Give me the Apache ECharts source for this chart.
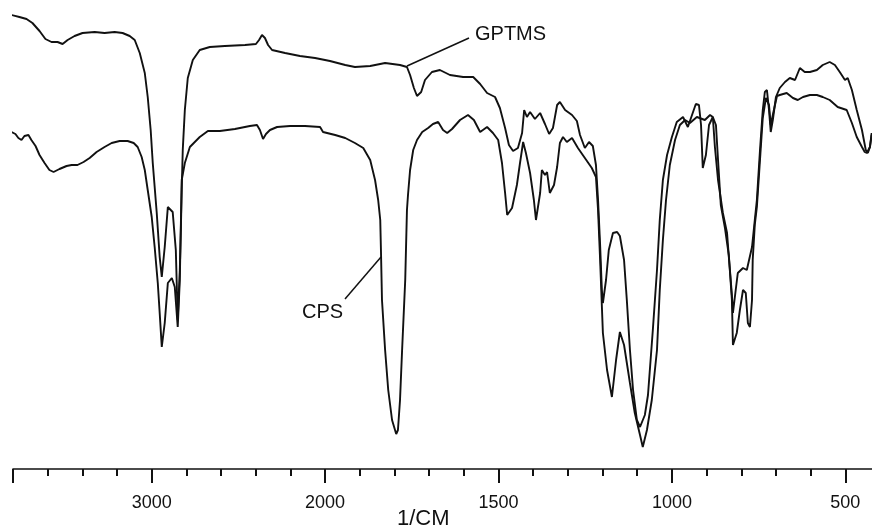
<!DOCTYPE html>
<html>
<head>
<meta charset="utf-8">
<script src="https://cdn.jsdelivr.net/npm/echarts@6/dist/echarts.min.js"></script>
<style>
html,body{margin:0;padding:0;background:#fff;overflow:hidden;width:872px;height:530px;}
#chart{width:1030px;height:530px;}
</style>
</head>
<body>
<div id="chart"></div>
<script>
// Wavenumbers (cm-1) and transmittance (arbitrary %T)
var gptmsWavenumber = [3809,3763,3722,3688,3647,3613,3578,3543,3514,3485,3445,3399,3329,3272,3214,3168,3127,3098,3069,3040,3023,3006,2994,2971,2954,2942,2925,2907,2896,2879,2861,2850,2838,2832,2827,2821,2809,2792,2763,2723,2665,2578,2462,2399,2381,2364,2347,2329,2306,2231,2145,2058,1986,1942,1914,1870,1827,1784,1764,1755,1744,1735,1723,1712,1692,1669,1640,1602,1573,1553,1533,1510,1496,1481,1470,1458,1444,1432,1426,1418,1409,1395,1380,1366,1354,1343,1331,1323,1308,1288,1274,1265,1251,1239,1228,1219,1213,1207,1202,1199,1190,1182,1170,1158,1150,1138,1130,1121,1112,1101,1092,1078,1069,1055,1043,1035,1026,1014,1000,986,968,954,942,931,922,916,911,902,893,882,873,867,859,847,836,827,824,816,810,795,784,769,761,755,746,738,732,726,720,715,709,700,689,674,660,645,631,617,602,582,565,545,530,516,501,493,481,467,452,441,435,429,424];
var gptmsT = [90.8,90.4,90.0,89.2,87.6,86.0,85.4,85.4,85.0,85.8,86.6,87.2,87.4,87.2,87.4,87.2,86.6,85.8,83.2,79.2,74.4,67.8,61.2,51.2,42.4,38.4,44.4,52.4,52.8,51.4,43.8,29.8,39.8,47.8,55.8,63.8,71.8,78.2,81.8,83.8,84.4,84.6,84.8,85.0,85.8,86.8,86.2,84.8,83.8,83.2,82.6,82.2,81.6,80.8,80.4,80.6,81.2,80.8,80.4,78.8,76.2,74.6,75.4,77.8,79.4,79.8,78.8,78.4,78.4,77.0,75.2,74.4,72.2,68.2,64.8,63.6,64.2,67.2,71.8,70.4,71.4,70.0,71.2,69.0,67.0,68.2,72.8,73.4,71.8,70.8,69.6,66.8,64.2,65.4,64.6,60.8,53.8,44.8,35.8,33.2,37.8,43.8,47.2,47.4,46.6,41.8,33.8,23.8,15.8,9.8,8.4,10.8,14.8,27.8,39.8,49.8,57.8,62.8,66.4,69.4,70.4,68.4,70.8,73.0,72.8,68.8,60.2,62.8,68.8,70.4,68.8,61.8,52.8,48.2,42.8,34.8,31.2,35.8,39.2,40.2,39.8,44.4,49.8,53.8,63.8,71.8,75.4,75.8,71.8,67.4,69.8,74.4,76.2,77.4,78.2,77.8,80.2,79.4,79.4,79.8,80.8,81.4,80.8,79.4,77.8,78.2,75.8,71.8,67.8,63.8,63.2,64.4,67.2];

var cpsWavenumber = [3809,3786,3769,3751,3734,3711,3694,3670,3647,3618,3590,3566,3532,3491,3462,3428,3393,3358,3318,3272,3231,3185,3139,3104,3081,3058,3040,3023,3000,2983,2965,2954,2942,2925,2907,2884,2867,2850,2838,2827,2809,2780,2723,2676,2607,2520,2434,2393,2376,2358,2341,2318,2277,2202,2116,2029,2012,1971,1942,1914,1890,1870,1856,1847,1841,1839,1836,1827,1818,1807,1795,1790,1784,1778,1769,1764,1761,1755,1746,1735,1720,1703,1689,1674,1660,1648,1634,1611,1588,1571,1553,1533,1516,1501,1490,1481,1475,1461,1447,1438,1429,1421,1409,1398,1392,1380,1375,1366,1360,1352,1340,1331,1323,1314,1303,1288,1271,1251,1231,1219,1213,1207,1199,1187,1173,1161,1150,1138,1121,1107,1092,1084,1072,1058,1043,1035,1026,1017,1006,991,977,962,948,928,905,890,882,876,867,853,841,833,827,824,813,804,795,787,781,775,769,767,761,755,746,738,729,720,715,706,697,689,669,651,637,622,602,582,565,545,522,496,481,467,452,444,438,429,424];
var cpsT = [67.4,67.0,66.2,65.8,66.6,66.8,65.8,64.6,62.8,61.2,59.8,59.4,60.0,60.6,60.8,60.8,61.4,62.2,63.4,64.4,65.2,65.6,65.6,65.2,64.4,62.4,59.8,55.8,50.4,44.4,37.2,31.2,24.4,29.2,37.2,38.2,36.4,28.4,37.8,57.8,61.2,64.4,66.4,67.6,67.6,68.0,68.6,68.8,67.8,66.0,67.0,67.8,68.4,68.6,68.6,68.4,67.4,66.8,66.2,65.2,64.2,61.8,57.8,53.8,49.8,43.8,33.8,23.8,15.8,9.8,7.0,7.8,13.8,23.8,37.8,51.8,54.8,59.8,63.8,65.8,67.4,68.2,69.0,69.4,67.8,67.2,68.0,69.8,70.8,69.8,67.4,68.4,67.2,65.8,61.2,55.2,50.8,52.2,56.8,61.2,65.4,63.2,59.2,53.8,49.8,55.2,59.8,58.8,59.4,55.2,56.8,60.4,65.2,66.4,65.4,66.2,64.2,62.2,60.2,58.4,51.8,41.8,27.2,19.8,14.4,21.8,27.4,24.8,17.2,11.2,6.8,4.4,7.8,13.8,23.8,35.8,45.8,53.8,60.8,65.8,68.8,69.8,69.2,70.4,69.8,70.8,70.4,64.4,57.8,51.2,47.2,39.8,33.8,24.8,27.2,31.8,35.8,35.2,29.2,28.4,33.8,41.8,48.8,52.4,61.8,70.2,74.2,72.8,68.8,71.8,74.6,74.8,75.2,74.2,73.8,74.4,74.8,74.8,74.4,73.8,72.4,71.8,69.2,66.4,64.4,63.4,63.2,64.4,66.8];

var tickLabels = [3000, 2000, 1500, 1000, 500];
var seriesNames = ['GPTMS', 'CPS'];

// Instrument scale change at 2000 cm-1: above 2000 the axis is compressed 2:1
function toAxis(w) { return w <= 2000 ? w : 2000 + (w - 2000) / 2; }
function fromAxis(u) { return u <= 2000 ? u : 2000 + (u - 2000) * 2; }
function pairs(ws, ts) { return ws.map(function (w, i) { return [toAxis(w), ts[i]]; }); }

var labelSet = {};
tickLabels.forEach(function (t) { labelSet[t] = true; });
var FONT = '"Liberation Sans", Arial, Helvetica, sans-serif';

// axis runs from 0 (beyond the visible window at right) to 2900 (= 3800 cm-1) at the left edge
var axisMin = 0, axisMax = 2900;
var commonAxis = {type: 'value', inverse: true, min: axisMin, max: axisMax, position: 'bottom', splitLine: {show: false}};

var chart = echarts.init(document.getElementById('chart'), null, {renderer: 'canvas'});
chart.setOption({
  animation: false,
  backgroundColor: '#ffffff',
  grid: {left: 13, width: 1005.7, top: 0, bottom: 61, containLabel: false},
  xAxis: [
    Object.assign({}, commonAxis, {
      interval: 100,
      axisLine: {show: true, onZero: false, lineStyle: {color: '#111', width: 1.6}},
      axisTick: {show: true, length: 7, lineStyle: {color: '#111', width: 2}},
      axisLabel: {show: false}
    }),
    Object.assign({}, commonAxis, {
      interval: 500,
      axisLine: {show: false, onZero: false},
      axisTick: {show: true, length: 14, lineStyle: {color: '#111', width: 2}},
      axisLabel: {
        show: true, margin: 25, fontSize: 18, color: '#111', fontFamily: FONT,
        formatter: function (u) { var w = Math.round(fromAxis(u)); return labelSet[w] ? String(w) : ''; }
      }
    })
  ],
  yAxis: {type: 'value', min: 0, max: 93.8, show: false},
  series: [{
    name: seriesNames[0], type: 'line', xAxisIndex: 0, showSymbol: false, smooth: false,
    lineStyle: {color: '#111', width: 1.9}, data: pairs(gptmsWavenumber, gptmsT)
  }, {
    name: seriesNames[1], type: 'line', xAxisIndex: 0, showSymbol: false, smooth: false,
    lineStyle: {color: '#111', width: 1.9}, data: pairs(cpsWavenumber, cpsT)
  }],
  graphic: [
    {type: 'line', shape: {x1: 407, y1: 66, x2: 469, y2: 38}, style: {stroke: '#111', lineWidth: 1.5}},
    {type: 'text', left: 475, top: 24, style: {text: seriesNames[0], fontSize: 20, fill: '#111', fontFamily: FONT}},
    {type: 'line', shape: {x1: 345, y1: 299, x2: 381, y2: 257}, style: {stroke: '#111', lineWidth: 1.5}},
    {type: 'text', left: 302, top: 302, style: {text: seriesNames[1], fontSize: 20, fill: '#111', fontFamily: FONT}},
    {type: 'text', left: 397, top: 508, style: {text: '1/CM', fontSize: 22, fill: '#111', fontFamily: FONT}}
  ]
});
</script>
</body>
</html>
